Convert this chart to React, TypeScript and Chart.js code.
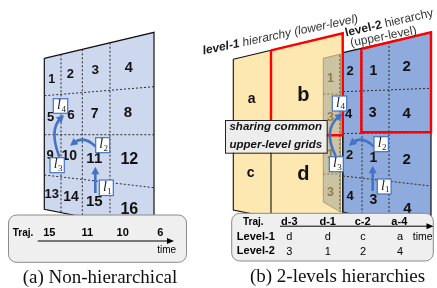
import React, { useEffect, useRef } from "react";
import { Chart, registerables } from "chart.js";

Chart.register(...registerables);

const SANS = '"Liberation Sans", Arial, sans-serif';
const SERIF = '"Liberation Serif", "Times New Roman", serif';

// ---------- Panel (a): non-hierarchical grid ----------
const gridAColumnX = [44.3, 61, 82.3, 110, 154];
const gridARowLeftY = [58.3, 95.7, 134.7, 175, 209.3];
const gridARowRightY = [32.3, 86.7, 134.7, 187.7, 231];
const gridACellLabels = ["1", "2", "3", "4", "5", "6", "7", "8", "9", "10", "11", "12", "13", "14", "15", "16"];
const gridACellX = [51.7, 70.3, 95.3, 128.7, 50.7, 71, 94.7, 128, 50, 69.3, 94.3, 129.3, 51.7, 71, 94.3, 129.3];
const gridACellY = [79.3, 74.3, 70.7, 68.3, 117.3, 115.7, 114, 113.3, 155.7, 155.7, 159, 160, 194, 197.3, 201.7, 209.3];
const gridACellSize = [12.5, 13, 13.5, 14.5, 13, 13.5, 14, 15, 13, 14, 15, 16, 13, 14, 15, 16];

const trajALabels = ["15", "11", "10", "6"];
const trajAX = [49.3, 87.3, 122.7, 160.3];

// ---------- Panel (b): 2-level hierarchy ----------
const level1Outline = [[233.3, 59.3], [342.7, 33.3], [342.7, 232], [233.3, 210]];
const level1DividerX = 271;
const level1MidY = 135;
const level1Labels = ["a", "b", "c", "d"];
const level1LabelX = [251.7, 303.3, 250.7, 303.3];
const level1LabelY = [98.7, 95, 172.7, 174];
const level1LabelSize = [14, 20, 14, 20];

const stripOutline = [[323.3, 58.3], [340.5, 54], [340.5, 212], [323.3, 202]];
const stripRowY = [94, 135, 174];
const stripLabels = ["1", "3", "1", "3"];
const stripLabelY = [79, 117.3, 155, 192.7];
const stripLabelX = 330.5;

const level2Outline = [[343, 52.7], [431, 32.3], [431, 232], [343, 212]];
const level2ColumnX = [362, 389];
const level2RowLeftY = [91.7, 133.5, 176];
const level2RowRightY = [88.3, 132.5, 186];
const level2Labels = ["2", "1", "2", "4", "3", "4", "2", "1", "2", "4", "3", "4"];
const level2LabelX = [350, 373.3, 406.7, 348.7, 372.7, 406.7, 349.7, 373.3, 406.7, 350, 373.3, 407.3];
const level2LabelY = [71.7, 71, 66.7, 114.3, 113.3, 114.3, 155, 158.3, 160, 196.7, 200, 209.3];
const level2LabelSize = [13, 14, 15, 13, 14, 15, 13, 14, 15, 13, 14, 15];

const redRectB = [[271, 50.3], [342.7, 33.3], [342.7, 135.3], [271, 135.3]];
const redRect2 = [[361.3, 49], [431, 32.3], [431, 132.3], [361.3, 132.3]];

const trajBLabels = ["d-3", "d-1", "c-2", "a-4"];
const trajBX = [289.3, 327.7, 362.7, 399.3];
const level1Seq = ["d", "d", "c", "a"];
const level2Seq = ["3", "1", "2", "4"];
const seqX = [289.3, 327.7, 363, 400];

// movement legs l1..l4: [startX, startY, ctrlX, ctrlY, tipX, tipY]
const movesA = [
  [95.3, 193, 95.3, 180, 95.3, 166.7],
  [95.7, 146.7, 84, 135, 70, 145.7],
  [59.3, 156.7, 49, 130, 64, 115],
];
const movesB = [
  [372.7, 191, 372.7, 178, 372.7, 165.7],
  [374, 146.7, 362, 135, 349, 145.7],
  [335.7, 156, 322.5, 130, 342.7, 113.3],
];
// tags: [x, y, w, h, index]
const tagsA = [[99.3, 180, 14, 15.5, 1], [95.7, 137.7, 14, 15, 2], [50, 157.7, 14.3, 15, 3], [53.3, 98.7, 14.4, 14.6, 4]];
const tagsB = [[377.3, 179, 13.8, 15, 1], [374, 136.7, 14.3, 15, 2], [329.3, 156.7, 14, 15, 3], [332.3, 96, 14.4, 15, 4]];

const BLUE_A = "#CDD8EF";
const BLUE_B = "#8FAADC";
const YELLOW = "#FEE8B2";
const STRIP = "#CBC3A1";
const RED = "#FF0000";
const ARROW = "#4472C4";

type P = number[];
function polyDataset(points: P[], fill: string | null, stroke: string, width: number, dash: number[] = []) {
  const pts = [...points, points[0]].map(([x, y]) => ({ x, y }));
  return {
    data: pts,
    fill: fill ? "shape" : false,
    backgroundColor: fill || "transparent",
    borderColor: stroke,
    borderWidth: width,
    borderDash: dash,
    borderJoinStyle: "miter",
    pointRadius: 0,
    tension: 0,
  };
}
function segDataset(a: P, b: P, color: string, width: number, dash: number[] = []) {
  return {
    data: [{ x: a[0], y: a[1] }, { x: b[0], y: b[1] }],
    fill: false,
    borderColor: color,
    borderWidth: width,
    borderDash: dash,
    pointRadius: 0,
    tension: 0,
  };
}
const lerpY = (x0: number, y0: number, x1: number, y1: number, x: number) => y0 + ((y1 - y0) * (x - x0)) / (x1 - x0);

function buildDatasets() {
  const ds: any[] = [];
  const dash = [2, 2];
  const dashColor = "#2a2a2a";
  // panel a
  const ax0 = gridAColumnX[0];
  const ax1 = gridAColumnX[gridAColumnX.length - 1];
  const last = gridARowLeftY.length - 1;
  ds.push(polyDataset([[ax0, gridARowLeftY[0]], [ax1, gridARowRightY[0]], [ax1, gridARowRightY[last]], [ax0, gridARowLeftY[last]]], BLUE_A, "#111", 1.2));
  for (let i = 1; i < last; i++) ds.push(segDataset([ax0, gridARowLeftY[i]], [ax1, gridARowRightY[i]], dashColor, 1, dash));
  for (let c = 1; c < gridAColumnX.length - 1; c++) {
    const x = gridAColumnX[c];
    ds.push(segDataset([x, lerpY(ax0, gridARowLeftY[0], ax1, gridARowRightY[0], x)], [x, lerpY(ax0, gridARowLeftY[last], ax1, gridARowRightY[last], x)], dashColor, 1, dash));
  }
  // panel b - level 1
  const [l1a, l1b, , l1d] = level1Outline;
  ds.push(polyDataset(level1Outline, YELLOW, "#111", 1.1));
  ds.push(segDataset([level1DividerX, lerpY(l1a[0], l1a[1], l1b[0], l1b[1], level1DividerX)], [level1DividerX, lerpY(l1d[0], l1d[1], level1Outline[2][0], level1Outline[2][1], level1DividerX)], "#111", 1.1));
  ds.push(segDataset([l1a[0], level1MidY], [level1DividerX, level1MidY], "#111", 1.1));
  // strip (shared upper-level column)
  ds.push(polyDataset(stripOutline, STRIP, "#9C9270", 0.8));
  stripRowY.forEach((y) => ds.push(segDataset([stripOutline[0][0], y], [stripOutline[1][0], y], "#8A7D52", 1, dash)));
  ds.push(segDataset([339.5, 55], [339.5, 212], "#8A7D52", 1, dash));
  // panel b - level 2
  const [b0, b1, b2, b3] = level2Outline;
  ds.push(polyDataset(level2Outline, BLUE_B, "#111", 1.2));
  level2RowLeftY.forEach((y, i) => ds.push(segDataset([b0[0], y], [b1[0], level2RowRightY[i]], dashColor, 1, dash)));
  level2ColumnX.forEach((x) => ds.push(segDataset([x, lerpY(b0[0], b0[1], b1[0], b1[1], x)], [x, lerpY(b3[0], b3[1], b2[0], b2[1], x)], dashColor, 1, dash)));
  // red selection rectangles
  ds.push(polyDataset(redRectB, null, RED, 2.4));
  ds.push(polyDataset(redRect2, null, RED, 2.4));
  const n = ds.length;
  ds.forEach((d, i) => (d.order = n - i));
  return ds;
}

function roundRect(ctx: CanvasRenderingContext2D, x: number, y: number, w: number, h: number, r: number) {
  ctx.beginPath();
  ctx.moveTo(x + r, y);
  ctx.lineTo(x + w - r, y);
  ctx.arcTo(x + w, y, x + w, y + r, r);
  ctx.lineTo(x + w, y + h - r);
  ctx.arcTo(x + w, y + h, x + w - r, y + h, r);
  ctx.lineTo(x + r, y + h);
  ctx.arcTo(x, y + h, x, y + h - r, r);
  ctx.lineTo(x, y + r);
  ctx.arcTo(x, y, x + r, y, r);
  ctx.closePath();
}

function arrowHead(ctx: CanvasRenderingContext2D, tx: number, ty: number, fx: number, fy: number, len: number, half: number, color: string) {
  const ang = Math.atan2(ty - fy, tx - fx);
  ctx.save();
  ctx.fillStyle = color;
  ctx.beginPath();
  ctx.moveTo(tx, ty);
  ctx.lineTo(tx - len * Math.cos(ang) + half * Math.sin(ang), ty - len * Math.sin(ang) - half * Math.cos(ang));
  ctx.lineTo(tx - len * Math.cos(ang) - half * Math.sin(ang), ty - len * Math.sin(ang) + half * Math.cos(ang));
  ctx.closePath();
  ctx.fill();
  ctx.restore();
}

const overlayPlugin = {
  id: "overlay",
  afterDatasetsDraw(chart: any) {
    const ctx: CanvasRenderingContext2D = chart.ctx;
    const X = (v: number) => chart.scales.x.getPixelForValue(v);
    const Y = (v: number) => chart.scales.y.getPixelForValue(v);
    const text = (s: string, x: number, y: number, font: string, color = "#000", align: CanvasTextAlign = "center", base: CanvasTextBaseline = "middle") => {
      ctx.font = font;
      ctx.fillStyle = color;
      ctx.textAlign = align;
      ctx.textBaseline = base;
      ctx.fillText(s, X(x), Y(y));
    };
    ctx.save();
    // cell labels
    gridACellLabels.forEach((s, i) => text(s, gridACellX[i], gridACellY[i], `bold ${gridACellSize[i]}px ${SANS}`, "#111"));
    level2Labels.forEach((s, i) => text(s, level2LabelX[i], level2LabelY[i], `bold ${level2LabelSize[i]}px ${SANS}`, "#111"));
    stripLabels.forEach((s, i) => text(s, stripLabelX, stripLabelY[i], `bold 12.5px ${SANS}`, "#8C7C4C"));
    level1Labels.forEach((s, i) => text(s, level1LabelX[i], level1LabelY[i], `bold ${level1LabelSize[i]}px ${SANS}`, "#111"));

    // rotated titles
    const rotated = (x: number, y: number, deg: number, parts: [string, string, string][]) => {
      ctx.save();
      ctx.translate(X(x), Y(y));
      ctx.rotate((deg * Math.PI) / 180);
      ctx.textAlign = "left";
      ctx.textBaseline = "alphabetic";
      let cx = 0;
      parts.forEach(([s, font, color]) => {
        ctx.font = font;
        ctx.fillStyle = color;
        ctx.fillText(s, cx, 0);
        cx += ctx.measureText(s).width;
      });
      ctx.restore();
    };
    rotated(203.5, 54.5, -11.8, [
      ["level-1", `italic bold 12px ${SANS}`, "#1a1a1a"],
      [" hierarchy (lower-level)", `italic 12px ${SANS}`, "#333"],
    ]);
    rotated(346, 36.5, -13, [
      ["level-2", `bold 12px ${SANS}`, "#1a1a1a"],
      [" hierarchy", `12px ${SANS}`, "#333"],
    ]);
    rotated(351, 46.5, -11, [["(upper-level)", `12px ${SANS}`, "#333"]]);

    // trajectory boxes
    ctx.lineWidth = 1;
    ctx.strokeStyle = "#8a8a8a";
    ctx.fillStyle = "#EFEFEF";
    roundRect(ctx, X(8.5), Y(215), X(186.5) - X(8.5), Y(262.3) - Y(215), 8);
    ctx.fill();
    ctx.stroke();
    ctx.fillStyle = "#EFEFEF";
    roundRect(ctx, X(231.7), Y(213.3), X(433.3) - X(231.7), Y(261) - Y(213.3), 8);
    ctx.fill();
    ctx.stroke();

    const timeArrow = (x0: number, x1: number, y: number) => {
      ctx.strokeStyle = "#000";
      ctx.lineWidth = 1;
      ctx.beginPath();
      ctx.moveTo(X(x0), Y(y));
      ctx.lineTo(X(x1) - 5, Y(y));
      ctx.stroke();
      arrowHead(ctx, X(x1), Y(y), X(x0), Y(y), 7, 3, "#000");
    };
    text("Traj.", 23, 233.3, `bold 10px ${SANS}`);
    trajALabels.forEach((s, i) => text(s, trajAX[i], 233.3, `bold 11px ${SANS}`));
    timeArrow(37.7, 174, 241);
    text("time", 166.7, 250, `10px ${SANS}`);

    text("Traj.", 253.3, 222.3, `bold 10px ${SANS}`);
    trajBLabels.forEach((s, i) => text(s, trajBX[i], 221.8, `bold 11px ${SANS}`));
    timeArrow(280, 433.5, 226.2);
    text("Level-1", 255.8, 237.3, `bold 11px ${SANS}`);
    text("Level-2", 255.8, 250.7, `bold 11px ${SANS}`);
    level1Seq.forEach((s, i) => text(s, seqX[i], 237.3, `11px ${SANS}`));
    level2Seq.forEach((s, i) => text(s, seqX[i], 251.5, `11px ${SANS}`));
    text("time", 422.7, 237, `10.5px ${SANS}`);

    // captions
    text("(a) Non-hierarchical", 100, 282.5, `19px ${SERIF}`, "#111", "center", "alphabetic");
    text("(b) 2-levels hierarchies", 337.5, 282, `19px ${SERIF}`, "#111", "center", "alphabetic");

    // sharing box
    ctx.fillStyle = "#EDEDED";
    ctx.strokeStyle = "#222";
    ctx.lineWidth = 1;
    ctx.fillRect(X(225), Y(120), X(326.7) - X(225), Y(152.7) - Y(120));
    ctx.strokeRect(X(225) + 0.5, Y(120) + 0.5, X(326.7) - X(225), Y(152.7) - Y(120));
    text("sharing common", 275.8, 127.2, `italic bold 11.5px ${SANS}`, "#111");
    text("upper-level grids", 275.8, 144.5, `italic bold 11.5px ${SANS}`, "#111");

    // movement arrows
    [...movesA, ...movesB].forEach(([sx, sy, cx, cy, tx, ty]) => {
      const hx = tx - (tx - cx) * 0.0;
      ctx.strokeStyle = ARROW;
      ctx.lineWidth = 2.6;
      ctx.lineCap = "butt";
      const ang = Math.atan2(Y(ty) - Y(cy), X(tx) - X(cx));
      const ex = X(tx) - 5 * Math.cos(ang);
      const ey = Y(ty) - 5 * Math.sin(ang);
      ctx.beginPath();
      ctx.moveTo(X(sx), Y(sy));
      ctx.quadraticCurveTo(X(cx), Y(cy), ex, ey);
      ctx.stroke();
      arrowHead(ctx, X(hx), Y(ty), X(cx), Y(cy), 7.5, 4, ARROW);
    });

    // l tags
    [...tagsA, ...tagsB].forEach(([x, y, w, h, k]) => {
      ctx.fillStyle = "#FFFFFF";
      ctx.fillRect(X(x), Y(y), X(x + w) - X(x), Y(y + h) - Y(y));
      ctx.strokeStyle = ARROW;
      ctx.lineWidth = 1.2;
      ctx.strokeRect(X(x), Y(y), X(x + w) - X(x), Y(y + h) - Y(y));
      text("l", x + w * 0.4, y + h * 0.47, `italic 14px ${SERIF}`, "#222");
      text(String(k), x + w * 0.72, y + h * 0.74, `9px ${SERIF}`, "#222");
    });
    ctx.restore();
  },
};

export default function App() {
  const ref = useRef<HTMLCanvasElement | null>(null);
  useEffect(() => {
    document.body.style.margin = "0";
    if (!ref.current) return;
    const chart = new Chart(ref.current, {
      type: "line",
      data: { datasets: buildDatasets() },
      options: {
        animation: false,
        responsive: false,
        events: [],
        layout: { padding: 0 },
        scales: {
          x: { type: "linear", min: 0, max: 437, display: false },
          y: { type: "linear", min: 0, max: 288, reverse: true, display: false },
        },
        plugins: { legend: { display: false }, tooltip: { enabled: false }, title: { display: false } },
      } as any,
      plugins: [overlayPlugin],
    } as any);
    return () => chart.destroy();
  }, []);
  return (
    <div style={{ position: "fixed", left: 0, top: 0, width: 437, height: 288, background: "#fff" }}>
      <canvas ref={ref} width={437} height={288} style={{ width: 437, height: 288 }} />
    </div>
  );
}
